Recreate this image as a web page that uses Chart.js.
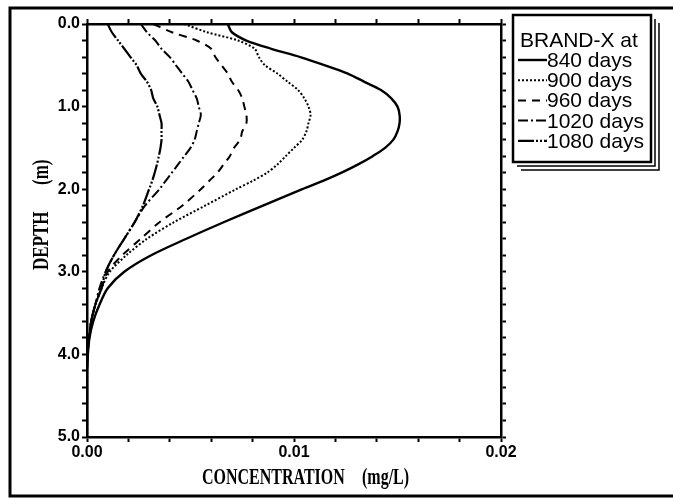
<!DOCTYPE html>
<html>
<head>
<meta charset="utf-8">
<script src="https://cdn.jsdelivr.net/npm/chart.js@4.4.1/dist/chart.umd.min.js"></script>
<style>
  html, body { margin: 0; padding: 0; background: #fff; }
  #wrap { width: 673px; height: 498px; }
</style>
</head>
<body>
<div id="wrap"><canvas id="profileChart" width="673" height="498"></canvas></div>
<script>
// --- DATA ---
const depths = [0, 0.1, 0.2, 0.3, 0.4, 0.5, 0.6, 0.7, 0.8, 0.9, 1.0, 1.1, 1.2, 1.3, 1.4, 1.5, 1.6, 1.7, 1.8, 1.9,
                2.0, 2.2, 2.4, 2.6, 2.8, 3.0, 3.2, 3.4, 3.6, 3.8, 4.0, 4.2, 4.6, 5.0];

const conc840 = [0.0068, 0.0070, 0.0077, 0.0089, 0.0103, 0.0115, 0.0126, 0.0134, 0.0142, 0.0147, 0.0150, 0.0151,
                 0.0151, 0.0150, 0.0148, 0.0144, 0.0138, 0.0131, 0.0123, 0.0114, 0.0104, 0.0085, 0.0066, 0.0048,
                 0.0031, 0.0018, 0.0010, 0.0006, 0.0003, 0.00012, 0.00004, 0, 0, 0];
const conc900 = [0.0047, 0.0058, 0.0073, 0.0081, 0.0083, 0.0086, 0.0092, 0.0097, 0.0102, 0.0105, 0.0107, 0.0108,
                 0.0107, 0.0106, 0.0104, 0.0100, 0.0096, 0.0092, 0.0087, 0.0080, 0.0072, 0.0057, 0.0042, 0.0029,
                 0.0019, 0.0011, 0.0007, 0.0004, 0.0002, 0.0001, 0.00003, 0, 0, 0];
const conc960 = [0.0032, 0.0041, 0.0053, 0.0060, 0.0062, 0.0065, 0.0068, 0.0070, 0.0073, 0.0075, 0.0076, 0.0077,
                 0.0077, 0.0075, 0.0074, 0.0071, 0.0069, 0.0066, 0.0063, 0.0059, 0.0055, 0.0046, 0.0035, 0.0026,
                 0.0017, 0.0010, 0.0007, 0.0004, 0.0002, 0.0001, 0.00003, 0, 0, 0];
const conc1020 = [0.0026, 0.0029, 0.0033, 0.0036, 0.0040, 0.0043, 0.0046, 0.0049, 0.0051, 0.0053, 0.0054, 0.0055,
                  0.0054, 0.0053, 0.0052, 0.0050, 0.0047, 0.0044, 0.0041, 0.0038, 0.0035, 0.0028, 0.0023, 0.0018,
                  0.0013, 0.0009, 0.0006, 0.0004, 0.0002, 0.0001, 0.00003, 0, 0, 0];
const conc1080 = [0.0010, 0.0012, 0.0015, 0.0018, 0.0021, 0.0024, 0.0026, 0.0029, 0.0031, 0.0032, 0.0034, 0.0035,
                  0.0036, 0.0036, 0.0036, 0.00355, 0.00347, 0.00338, 0.00327, 0.00315, 0.0030, 0.0027, 0.0023, 0.0018,
                  0.0013, 0.0009, 0.0007, 0.0004, 0.0002, 0.0001, 0.00003, 0, 0, 0];

const seriesLabels = ['840 days', '900 days', '960 days', '1020 days', '1080 days'];
const legendTitle = 'BRAND-X at';
const xTitle = ['CONCENTRATION', '(mg/L)'];
const yTitle = ['DEPTH', '(m)'];

// --- Styles ---
const lineStyles = [
  { width: 2.4, dash: [] },
  { width: 2.0, dash: [2, 2] },
  { width: 2.0, dash: [8, 6] },
  { width: 2.0, dash: [10, 3, 2, 3] },
  { width: 2.2, dash: [16, 2, 2, 2, 2, 2] }
];

function makeSeries(values, i) {
  return {
    label: seriesLabels[i],
    data: depths.map((d, k) => ({ x: values[k], y: d })),
    borderColor: '#000',
    borderWidth: lineStyles[i].width,
    borderDash: lineStyles[i].dash,
    pointRadius: 0,
    tension: 0.3,
    fill: false
  };
}

const isMajor = (v, step) => Math.abs(v / step - Math.round(v / step)) < 1e-6;
const tickFont = { family: 'Liberation Sans', weight: 'bold', size: 16 };

function frameAxis(pos, extra) {
  return Object.assign({
    type: 'linear',
    position: pos,
    grid: { drawOnChartArea: false, drawTicks: true, tickLength: 5, tickWidth: 2, tickColor: '#000' },
    border: { display: true, color: '#000', width: 2.5 }
  }, extra);
}

// --- Axis titles drawn tall and narrow like the original ---
const titlesPlugin = {
  id: 'axisTitles',
  afterDraw(chart) {
    const ctx = chart.ctx;
    ctx.save();
    ctx.fillStyle = '#000';
    ctx.textBaseline = 'alphabetic';
    ctx.font = 'bold 16px "Liberation Serif"';
    ctx.save(); ctx.translate(202, 484); ctx.scale(1, 1.45); ctx.fillText(xTitle[0], 0, 0); ctx.restore();
    ctx.save(); ctx.translate(362, 484); ctx.scale(1, 1.45); ctx.fillText(xTitle[1], 0, 0); ctx.restore();
    ctx.font = 'bold 17px "Liberation Serif"';
    ctx.save(); ctx.translate(48, 270); ctx.rotate(-Math.PI / 2); ctx.scale(1, 1.4);
    ctx.fillText(yTitle[0], 0, 0); ctx.fillText(yTitle[1], 85, 0); ctx.restore();
    ctx.restore();
  }
};

// --- Boxed legend with shadow, outside the plot ---
const boxLegend = {
  id: 'boxLegend',
  afterDraw(chart) {
    const ctx = chart.ctx;
    ctx.save();
    ctx.strokeStyle = '#000';
    ctx.fillStyle = '#fff';
    ctx.lineWidth = 1.5;
    [[8, 8], [4, 4]].forEach(([dx, dy]) => {
      ctx.beginPath();
      ctx.moveTo(651 + dx, 15 + dy);
      ctx.lineTo(651 + dx, 162 + dy);
      ctx.lineTo(513 + dx, 162 + dy);
      ctx.stroke();
    });
    ctx.lineWidth = 2.5;
    ctx.fillRect(513, 15, 138, 147);
    ctx.strokeRect(513, 15, 138, 147);

    ctx.fillStyle = '#000';
    ctx.font = '21px "Liberation Sans"';
    ctx.textBaseline = 'alphabetic';
    ctx.fillText(legendTitle, 520, 47);
    chart.data.datasets.forEach((ds, i) => {
      const base = 67 + i * 20.2;
      ctx.beginPath();
      ctx.setLineDash(ds.borderDash);
      ctx.lineWidth = ds.borderWidth;
      ctx.moveTo(518, base - 7);
      ctx.lineTo(547, base - 7);
      ctx.stroke();
      ctx.setLineDash([]);
      ctx.fillText(ds.label, 547, base);
    });
    ctx.restore();
  }
};

// --- Outer frame and white background ---
const pageFrame = {
  id: 'pageFrame',
  beforeDraw(chart) {
    const ctx = chart.ctx;
    ctx.save();
    ctx.fillStyle = '#fff';
    ctx.fillRect(0, 0, chart.width, chart.height);
    ctx.restore();
  },
  afterDraw(chart) {
    const ctx = chart.ctx;
    ctx.save();
    ctx.strokeStyle = '#000';
    ctx.lineWidth = 3;
    ctx.strokeRect(10, 8, 720, 488);
    ctx.restore();
  }
};

window.addEventListener('DOMContentLoaded', () => {
  const ctx = document.getElementById('profileChart').getContext('2d');
  new Chart(ctx, {
    type: 'line',
    data: { datasets: [conc840, conc900, conc960, conc1020, conc1080].map(makeSeries) },
    options: {
      responsive: false,
      animation: false,
      devicePixelRatio: 1,
      layout: { padding: { left: 0, top: 24, right: 172, bottom: 0 } },
      plugins: { legend: { display: false }, tooltip: { enabled: false } },
      scales: {
        x: frameAxis('bottom', {
          min: 0, max: 0.02,
          ticks: { stepSize: 0.002, autoSkip: false, maxRotation: 0, padding: 1, color: '#000', font: tickFont,
                   callback: v => isMajor(v, 0.01) ? v.toFixed(2) : '' },
          afterFit: s => { s.height = 61; }
        }),
        y: frameAxis('left', {
          min: 0, max: 5, reverse: true,
          ticks: { stepSize: 0.2, autoSkip: false, padding: 2, color: '#000', font: tickFont,
                   callback: v => isMajor(v, 1) ? v.toFixed(1) : '' },
          afterFit: s => { s.width = 87; }
        }),
        x2: frameAxis('top', {
          min: 0, max: 0.02,
          ticks: { stepSize: 0.002, autoSkip: false, display: false },
          afterFit: s => { s.height = 0; }
        }),
        y2: frameAxis('right', {
          min: 0, max: 5, reverse: true,
          ticks: { stepSize: 0.2, autoSkip: false, display: false },
          afterFit: s => { s.width = 0; }
        })
      }
    },
    plugins: [pageFrame, titlesPlugin, boxLegend]
  });
});
</script>
</body>
</html>
